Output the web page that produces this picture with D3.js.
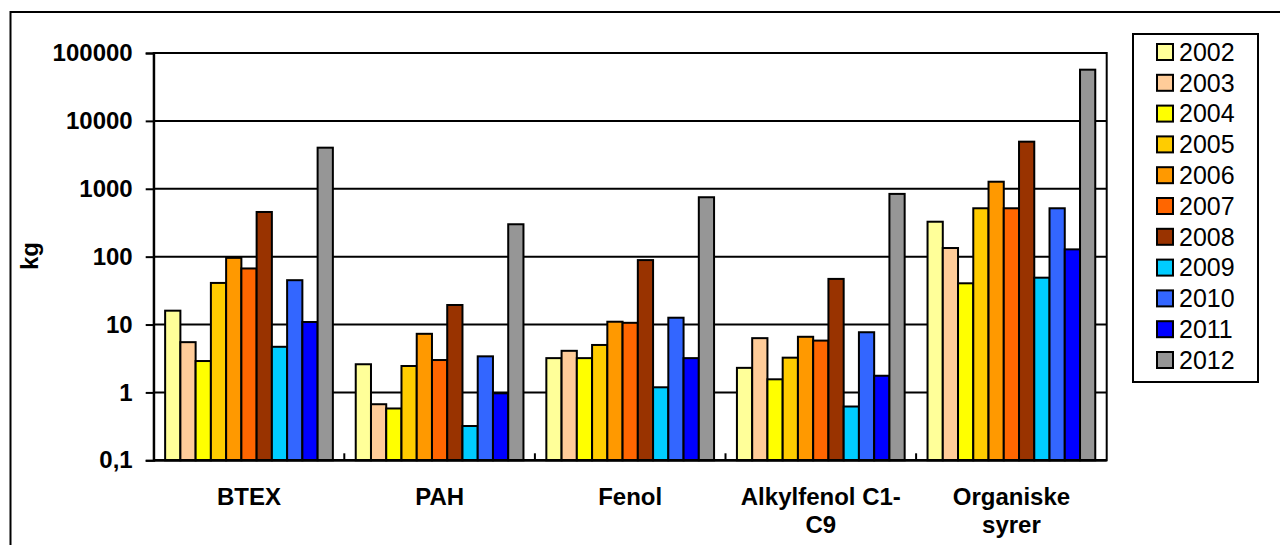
<!DOCTYPE html>
<html>
<head>
<meta charset="utf-8">
<script src="https://cdn.jsdelivr.net/npm/d3@7"></script>
<style>
  body { margin: 0; background: #fff; }
  text { font-family: "Liberation Sans", Arial, sans-serif; }
</style>
</head>
<body>
<div class="canvas"></div>
<script>
// data
const categories = ['BTEX', 'PAH', 'Fenol', 'Alkylfenol C1-\nC9', 'Organiske\nsyrer'];
const years = ['2002', '2003', '2004', '2005', '2006', '2007', '2008', '2009', '2010', '2011', '2012'];
const colors = ['#FFFF99', '#FFCC99', '#FFFF00', '#FFCC00', '#FF9900', '#FF6600', '#993300', '#00CCFF', '#3366FF', '#0000FF', '#969696'];

// one array per category, values per year (kg)
const btex = [16, 5.5, 2.9, 41, 96, 67, 455, 4.7, 45, 10.9, 4030];
const pah = [2.6, 0.67, 0.58, 2.45, 7.3, 3.0, 19.4, 0.32, 3.4, 0.97, 300];
const fenol = [3.2, 4.1, 3.2, 5.0, 11, 10.6, 89, 1.19, 12.6, 3.2, 750];
const alkylfenol = [2.3, 6.3, 1.56, 3.25, 6.6, 5.8, 47, 0.62, 7.7, 1.76, 840];
const organiske = [327, 134, 40.5, 516, 1270, 516, 4940, 49, 516, 128, 56800];

const yTicks = [0.1, 1, 10, 100, 1000, 10000, 100000];
const yTickLabels = ['0,1', '1', '10', '100', '1000', '10000', '100000'];

const values = [btex, pah, fenol, alkylfenol, organiske];

const svg = d3.select('.canvas')
  .append('svg')
  .attr('width', 1280)
  .attr('height', 545);

// outer chart border (runs off right and bottom)
svg.append('rect')
  .attr('x', 10.5)
  .attr('y', 12)
  .attr('width', 1400)
  .attr('height', 700)
  .attr('fill', '#fff')
  .attr('stroke', '#000')
  .attr('stroke-width', 2);

// margins and dimensions
const margin = { top: 53, left: 153.7 };
const graphWidth = 1106.7 - margin.left;
const graphHeight = 460.3 - margin.top;

const graph = svg.append('g')
  .attr('transform', `translate(${margin.left},${margin.top})`);

const y = d3.scaleLog()
  .domain([0.1, 100000])
  .range([graphHeight, 0]);

const x0 = d3.scaleBand()
  .domain(categories)
  .range([0, graphWidth]);

const barW = x0.bandwidth() / 12.5;
const x1 = d3.scaleBand()
  .domain(years)
  .range([0.75 * barW, x0.bandwidth() - 0.75 * barW]);

// gridlines
graph.selectAll('line.grid')
  .data(yTicks)
  .enter()
  .append('line')
  .attr('class', 'grid')
  .attr('x1', 0)
  .attr('x2', graphWidth)
  .attr('y1', d => y(d))
  .attr('y2', d => y(d))
  .attr('stroke', '#000')
  .attr('stroke-width', 2);

// plot area border
graph.append('rect')
  .attr('width', graphWidth)
  .attr('height', graphHeight)
  .attr('fill', 'none')
  .attr('stroke', '#000')
  .attr('stroke-width', 2);

// bars
const groups = graph.selectAll('g.cat')
  .data(categories)
  .enter()
  .append('g')
  .attr('class', 'cat')
  .attr('transform', d => `translate(${x0(d)},0)`);

groups.selectAll('rect')
  .data((d, i) => values[i].map((v, j) => ({ year: years[j], v, color: colors[j] })))
  .enter()
  .append('rect')
  .attr('x', d => x1(d.year))
  .attr('width', x1.bandwidth())
  .attr('y', d => y(d.v))
  .attr('height', d => graphHeight - y(d.v))
  .attr('fill', d => d.color)
  .attr('stroke', '#000')
  .attr('stroke-width', 2);

// y axis
const yAxis = d3.axisLeft(y)
  .tickValues(yTicks)
  .tickFormat((d, i) => yTickLabels[i])
  .tickSize(8)
  .tickPadding(13);

const yAxisGroup = graph.append('g').call(yAxis);
yAxisGroup.select('.domain').attr('stroke-width', 2);
yAxisGroup.selectAll('.tick line').attr('stroke-width', 2);
yAxisGroup.selectAll('text')
  .attr('font-size', 24)
  .attr('font-weight', 'bold')
  .attr('font-family', '"Liberation Sans", Arial, sans-serif')
  .attr('fill', '#000');

// x axis line and category ticks (pointing inward)
graph.append('line')
  .attr('x1', 0).attr('x2', graphWidth)
  .attr('y1', graphHeight).attr('y2', graphHeight)
  .attr('stroke', '#000')
  .attr('stroke-width', 2.5);

graph.selectAll('line.cattick')
  .data(categories.slice(1))
  .enter()
  .append('line')
  .attr('class', 'cattick')
  .attr('x1', d => x0(d))
  .attr('x2', d => x0(d))
  .attr('y1', graphHeight)
  .attr('y2', graphHeight - 7)
  .attr('stroke', '#000')
  .attr('stroke-width', 2);

// category labels
const labels = graph.selectAll('text.catlabel')
  .data(categories)
  .enter()
  .append('text')
  .attr('class', 'catlabel')
  .attr('text-anchor', 'middle')
  .attr('font-size', 24)
  .attr('font-weight', 'bold')
  .attr('transform', d => `translate(${x0(d) + x0.bandwidth() / 2},${505 - margin.top})`);

labels.selectAll('tspan')
  .data(d => d.split('\n'))
  .enter()
  .append('tspan')
  .attr('x', 0)
  .attr('y', (d, i) => i * 27.7)
  .text(d => d);

// y axis title
svg.append('text')
  .attr('transform', 'translate(38,256) rotate(-90)')
  .attr('text-anchor', 'middle')
  .attr('font-size', 24)
  .attr('font-weight', 'bold')
  .text('kg');

// legend
const legend = svg.append('g');
legend.append('rect')
  .attr('x', 1133)
  .attr('y', 34)
  .attr('width', 125)
  .attr('height', 348)
  .attr('fill', '#fff')
  .attr('stroke', '#000')
  .attr('stroke-width', 2);

const items = legend.selectAll('g.item')
  .data(years)
  .enter()
  .append('g')
  .attr('class', 'item')
  .attr('transform', (d, i) => `translate(1157,${52 + i * 30.8})`);

items.append('rect')
  .attr('x', 0)
  .attr('y', -8)
  .attr('width', 16)
  .attr('height', 16)
  .attr('fill', (d, i) => colors[i])
  .attr('stroke', '#000')
  .attr('stroke-width', 2);

items.append('text')
  .attr('x', 22)
  .attr('dy', '0.35em')
  .attr('font-size', 25)
  .text(d => d);
</script>
</body>
</html>
